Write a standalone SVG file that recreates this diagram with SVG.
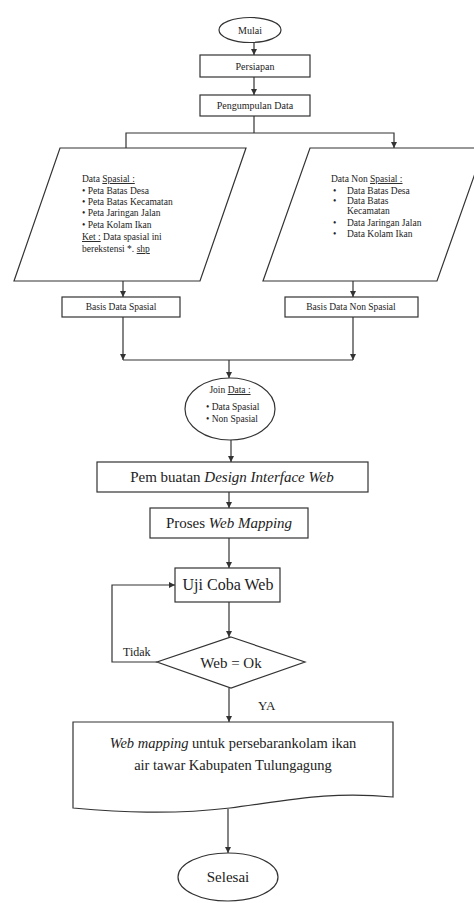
<svg xmlns="http://www.w3.org/2000/svg" width="474" height="903" viewBox="0 0 474 903">
<style>
.s{fill:#fff;stroke:#333;stroke-width:1.2}
.c{fill:none;stroke:#333;stroke-width:1.2}
text{font-family:"Liberation Serif","Times New Roman",serif;fill:#222}
.t10{font-size:10px}
.t9{font-size:9.5px}
.m{text-anchor:middle}
.big{font-size:15px}
.u{text-decoration:underline}
.i{font-style:italic}
</style>
<defs>
<marker id="ah" viewBox="0 0 6 6" refX="6" refY="3" markerWidth="6" markerHeight="6" markerUnits="userSpaceOnUse" orient="auto">
<path d="M0,0 L6,3 L0,6 z" fill="#333"/>
</marker>
</defs>
<rect width="474" height="903" fill="#fff"/>

<g id="connectors">
<line class="c" x1="254" y1="42.5" x2="254" y2="55" marker-end="url(#ah)"/>
<line class="c" x1="254" y1="77" x2="254" y2="95" marker-end="url(#ah)"/>
<polyline class="c" points="254,116 254,133"/>
<polyline class="c" points="126,148 126,133 394,133 394,148" marker-start="url(#ah)" marker-end="url(#ah)"/>
<line class="c" x1="123" y1="281" x2="123" y2="297" marker-end="url(#ah)"/>
<line class="c" x1="353" y1="281" x2="353" y2="297" marker-end="url(#ah)"/>
<line class="c" x1="123" y1="317" x2="123" y2="360" marker-end="url(#ah)"/>
<line class="c" x1="353" y1="317" x2="353" y2="360" marker-end="url(#ah)"/>
<line class="c" x1="123" y1="360" x2="353" y2="360"/>
<line class="c" x1="229" y1="360" x2="229" y2="378" marker-end="url(#ah)"/>
<line class="c" x1="231" y1="440" x2="231" y2="462" marker-end="url(#ah)"/>
<line class="c" x1="229" y1="492" x2="229" y2="508" marker-end="url(#ah)"/>
<line class="c" x1="229" y1="538" x2="229" y2="568" marker-end="url(#ah)"/>
<line class="c" x1="229" y1="602" x2="229" y2="637" marker-end="url(#ah)"/>
<polyline class="c" points="157,662 112,662 112,585 175,585" marker-end="url(#ah)"/>
<line class="c" x1="229" y1="688" x2="229" y2="722" marker-end="url(#ah)"/>
<line class="c" x1="228" y1="809" x2="228" y2="853" marker-end="url(#ah)"/>
</g>

<g id="mulai">
<ellipse class="s" cx="250" cy="30" rx="31" ry="12.5"/>
<text class="t10 m" x="250" y="33.5">Mulai</text>
</g>

<g id="persiapan">
<rect class="s" x="200" y="55" width="110" height="22"/>
<text class="t10 m" x="255" y="69.5">Persiapan</text>
</g>

<g id="pengumpulan">
<rect class="s" x="200" y="95" width="110" height="21"/>
<text class="t10 m" x="255" y="109">Pengumpulan Data</text>
</g>

<g id="data-spasial">
<polygon class="s" points="60,148 246,148 200,281 14,281"/>
<text class="t9" x="82" y="182">Data <tspan class="u">Spasial :</tspan></text>
<text class="t9" x="82" y="194">• Peta Batas Desa</text>
<text class="t9" x="82" y="205">• Peta Batas Kecamatan</text>
<text class="t9" x="82" y="216">• Peta Jaringan Jalan</text>
<text class="t9" x="82" y="228">• Peta Kolam Ikan</text>
<text class="t9" x="82" y="240"><tspan class="u">Ket :</tspan> Data spasial ini</text>
<text class="t9" x="82" y="252">berekstensi *. <tspan class="u">shp</tspan></text>
</g>

<g id="data-non-spasial">
<polygon class="s" points="310,148 484,148 437,281 263,281"/>
<text class="t9" x="331" y="182">Data Non <tspan class="u">Spasial :</tspan></text>
<text class="t9" x="333" y="194">•</text><text class="t9" x="347" y="194">Data Batas Desa</text>
<text class="t9" x="333" y="204">•</text><text class="t9" x="347" y="204">Data Batas</text>
<text class="t9" x="347" y="214">Kecamatan</text>
<text class="t9" x="333" y="226">•</text><text class="t9" x="347" y="226">Data Jaringan Jalan</text>
<text class="t9" x="333" y="237">•</text><text class="t9" x="347" y="237">Data Kolam Ikan</text>
</g>

<g id="basis-spasial">
<rect class="s" x="62" y="297" width="118" height="20"/>
<text class="t9 m" x="121" y="310">Basis Data Spasial</text>
</g>

<g id="basis-non-spasial">
<rect class="s" x="285" y="297" width="133" height="20"/>
<text class="t9 m" x="351" y="310">Basis Data Non Spasial</text>
</g>

<g id="join-data">
<ellipse class="s" cx="230" cy="409" rx="45" ry="31"/>
<text class="t9 m" x="230" y="393">Join <tspan class="u">Data :</tspan></text>
<text class="t9" x="206" y="410">• Data Spasial</text>
<text class="t9" x="206" y="422">• Non Spasial</text>
</g>

<g id="pembuatan">
<rect class="s" x="97" y="462" width="271" height="30"/>
<text class="big m" x="232" y="482">Pem buatan <tspan class="i">Design Interface Web</tspan></text>
</g>

<g id="proses">
<rect class="s" x="150" y="508" width="158" height="30"/>
<text class="big m" x="229" y="528">Proses <tspan class="i">Web Mapping</tspan></text>
</g>

<g id="uji-coba">
<rect class="s" x="175" y="568" width="105" height="34"/>
<text class="m" style="font-size:16px" x="228" y="590">Uji Coba Web</text>
</g>

<g id="web-ok">
<polygon class="s" points="231,637 305,662 231,688 157,662"/>
<text class="big m" x="231" y="668">Web = Ok</text>
<text style="font-size:12px" x="123" y="656">Tidak</text>
<text style="font-size:13px" x="258" y="710">YA</text>
</g>

<g id="hasil">
<path class="s" d="M73,722 H393 V797 C330,791 290,800 230,808 C170,815 120,812 73,808 Z"/>
<text class="m" style="font-size:14.5px" x="233" y="748"><tspan class="i">Web mapping</tspan> untuk persebarankolam ikan</text>
<text class="m" style="font-size:14.5px" x="233" y="770">air tawar Kabupaten Tulungagung</text>
</g>

<g id="selesai">
<ellipse class="s" cx="228" cy="877" rx="50" ry="24"/>
<text class="big m" x="228" y="882">Selesai</text>
</g>
</svg>
